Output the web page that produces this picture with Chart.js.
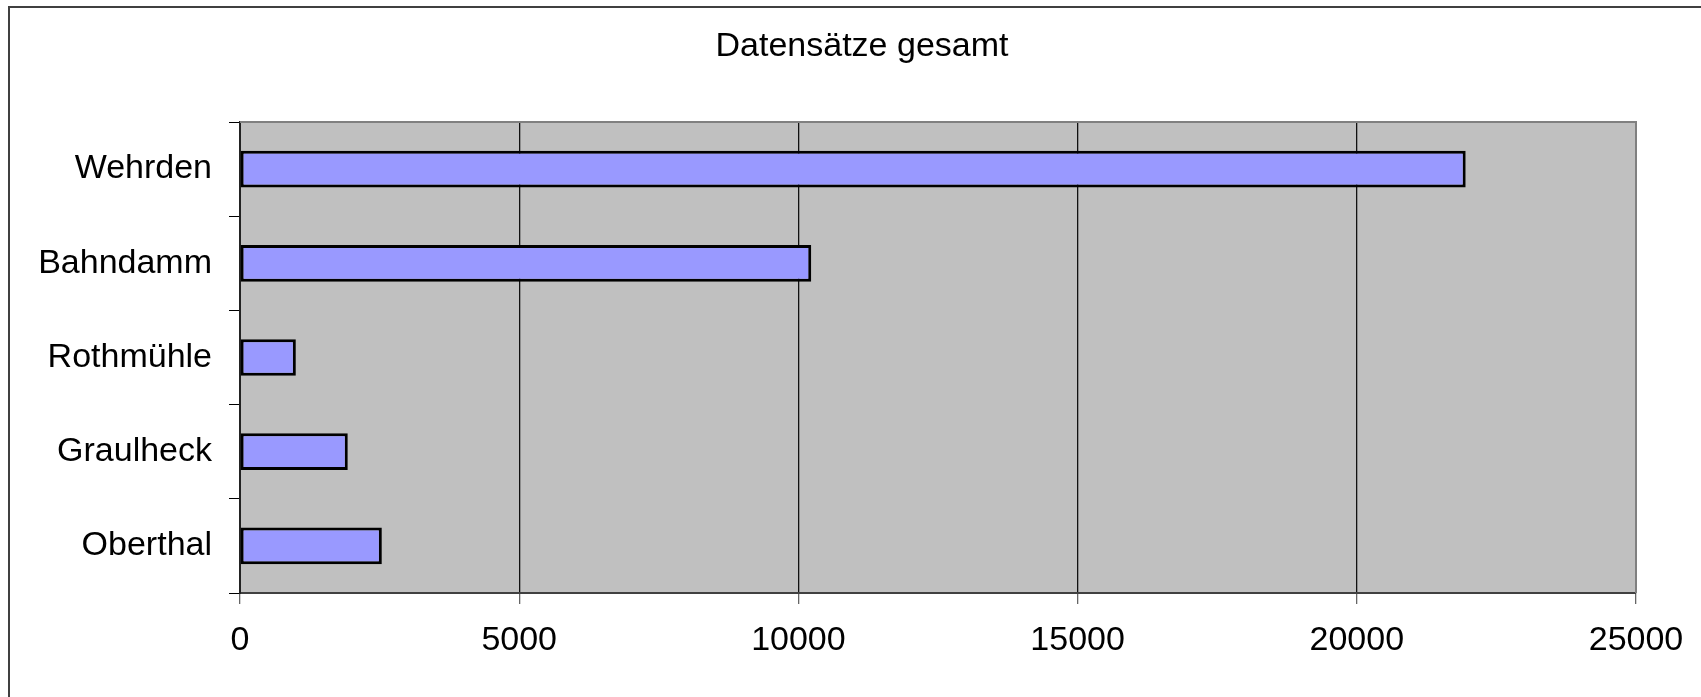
<!DOCTYPE html>
<html>
<head>
<meta charset="utf-8">
<script src="https://cdn.jsdelivr.net/npm/chart.js@4"></script>
<style>
    body { margin: 0; background: #fff; }
    canvas { display: block; }
</style>
</head>
<body>
<canvas id="recordsChart" width="1701" height="697"></canvas>
<script>
const chartTitle = "Datensätze gesamt";
const locations = ["Wehrden", "Bahndamm", "Rothmühle", "Graulheck", "Oberthal"];
const recordCounts = [21950, 10230, 1000, 1930, 2540];
const axisMin = 0;
const axisMax = 25000;
const axisStep = 5000;

const fontFamily = "'Liberation Sans', Arial, sans-serif";
const fontSize = 34;

// grey plot area, outer frame and the title, drawn the old spreadsheet way
const framePlugin = {
    id: "frame",
    beforeDraw(chart) {
        const { ctx, chartArea } = chart;
        ctx.save();
        ctx.fillStyle = "#c0c0c0";
        ctx.fillRect(chartArea.left, chartArea.top, chartArea.right - chartArea.left, chartArea.bottom - chartArea.top);

        ctx.strokeStyle = "#404040";
        ctx.lineWidth = 2;
        ctx.beginPath();
        ctx.moveTo(9, chart.height);
        ctx.lineTo(9, 7);
        ctx.lineTo(chart.width, 7);
        ctx.stroke();
        ctx.restore();
    },
    afterDraw(chart) {
        const { ctx, chartArea } = chart;
        ctx.save();
        ctx.strokeStyle = "#808080";
        ctx.lineWidth = 2;
        ctx.beginPath();
        ctx.moveTo(chartArea.left, chartArea.top);
        ctx.lineTo(chartArea.right, chartArea.top);
        ctx.lineTo(chartArea.right, chartArea.bottom);
        ctx.stroke();

        ctx.fillStyle = "#000";
        ctx.font = fontSize + "px " + fontFamily;
        ctx.textAlign = "center";
        ctx.textBaseline = "middle";
        ctx.fillText(chartTitle, 862, 47);
        ctx.restore();
    }
};

new Chart(document.getElementById("recordsChart"), {
    type: "bar",
    data: {
        labels: locations,
        datasets: [{
            label: chartTitle,
            data: recordCounts,
            backgroundColor: "#9999ff",
            borderColor: "#000",
            borderWidth: 3,
            borderSkipped: false,
            barPercentage: 0.39,
            categoryPercentage: 1
        }]
    },
    options: {
        indexAxis: "y",
        responsive: false,
        animation: false,
        layout: {
            padding: { top: 122, left: 10, right: 65, bottom: 0 }
        },
        plugins: {
            legend: { display: false },
            title: { display: false },
            tooltip: { enabled: false }
        },
        scales: {
            x: {
                min: axisMin,
                max: axisMax,
                afterFit: scale => { scale.height = 104; },
                ticks: {
                    stepSize: axisStep,
                    padding: 16,
                    color: "#000",
                    font: { family: fontFamily, size: fontSize },
                    callback: value => String(value)
                },
                grid: {
                    color: "#111",
                    lineWidth: 1.3,
                    tickLength: 11,
                    tickColor: "#666"
                },
                border: { color: "#404040", width: 2 }
            },
            y: {
                offset: true,
                afterFit: scale => { scale.width = 230; },
                ticks: {
                    padding: 17,
                    color: "#000",
                    font: { family: fontFamily, size: fontSize }
                },
                grid: {
                    offset: true,
                    drawOnChartArea: false,
                    tickLength: 11,
                    tickColor: "#000"
                },
                border: { color: "#222", width: 2 }
            }
        }
    },
    plugins: [framePlugin]
});
</script>
</body>
</html>
